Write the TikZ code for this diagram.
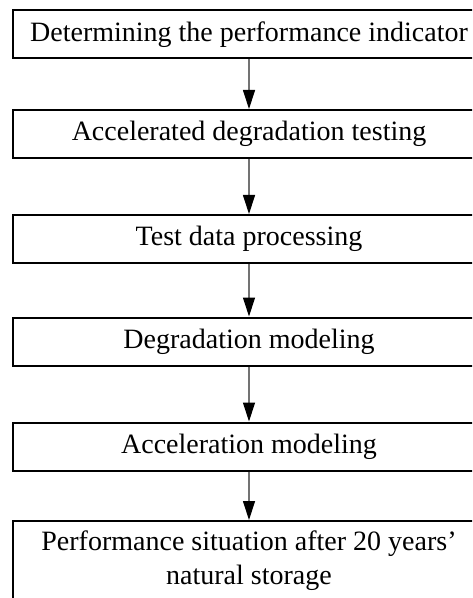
\documentclass[tikz,border=0pt]{standalone}
\usepackage{fontspec}
\setmainfont{Liberation Serif}
\usetikzlibrary{arrows.meta,positioning}

\begin{document}
\begin{tikzpicture}[%
    x=0.5pt, y=-0.5pt,%
    stepbox/.style={draw, line width=1pt, minimum width=236pt, minimum height=24pt, inner sep=0pt, align=center, font=\fontsize{14}{17}\selectfont},%
    flow/.style={draw=black!55, line width=0.6pt, -{Triangle[length=9.5pt, width=6pt, color=black]}}%
  ]
  % Page
  \useasboundingbox (0,0) rectangle (472,598);%
  \clip (0,0) rectangle (472,598);%

  % Coordinates
  \coordinate (S1) at (249,34.5);%
  \coordinate (S2) at (249,134);%
  \coordinate (S3) at (249,239);%
  \coordinate (S4) at (249,341.5);%
  \coordinate (S5) at (249,446.5);%
  \coordinate (S6) at (249,561);%

  % Nodes
  \node[stepbox] (indicator) at (S1) {Determining the performance indicator};%
  \node[stepbox] (testing) at (S2) {Accelerated degradation testing};%
  \node[stepbox] (processing) at (S3) {Test data processing};%
  \node[stepbox] (degradation) at (S4) {Degradation modeling};%
  \node[stepbox] (acceleration) at (S5) {Acceleration modeling};%
  \node[stepbox, minimum height=40pt] (situation) at (S6) {Performance situation after 20 years'\\natural storage};%

  % Lines
  \draw[flow] (indicator) -- (testing);%
  \draw[flow] (testing) -- (processing);%
  \draw[flow] (processing) -- (degradation);%
  \draw[flow] (degradation) -- (acceleration);%
  \draw[flow] (acceleration) -- (situation);%
\end{tikzpicture}
\end{document}
